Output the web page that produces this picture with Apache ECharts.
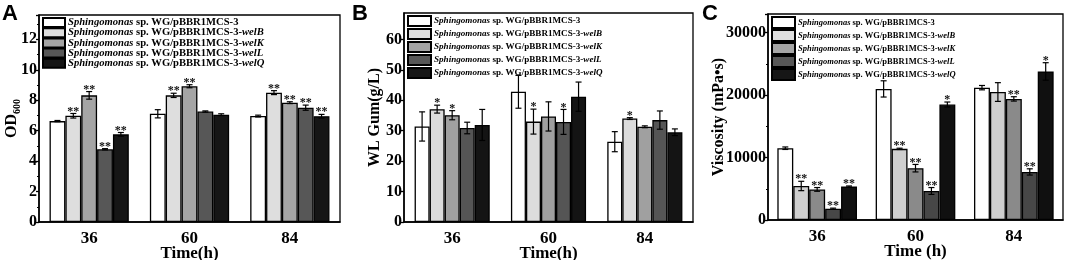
<!DOCTYPE html>
<html>
<head>
<meta charset="utf-8">
<script src="https://cdn.jsdelivr.net/npm/echarts@6/dist/echarts.min.js"></script>
<style>
  html, body { margin: 0; padding: 0; background: #fff; }
  #main { width: 1065px; height: 260px; }
</style>
</head>
<body>
<div id="main"></div>
<script>
// sampling times (h)
const times = ['36', '60', '84']

const strains = [
    'Sphingomonas sp. WG/pBBR1MCS-3',
    'Sphingomonas sp. WG/pBBR1MCS-3-welB',
    'Sphingomonas sp. WG/pBBR1MCS-3-welK',
    'Sphingomonas sp. WG/pBBR1MCS-3-welL',
    'Sphingomonas sp. WG/pBBR1MCS-3-welQ',
]
const geneTags = ['', 'welB', 'welK', 'welL', 'welQ']

// A: OD600, one row per strain, columns = times
const odMean = [
    [6.63, 7.11, 6.96],
    [6.98, 8.32, 8.50],
    [8.32, 8.92, 7.84],
    [4.78, 7.26, 7.51],
    [5.76, 7.05, 6.95],
]
const odErr = [
    [0.04, 0.27, 0.06],
    [0.15, 0.14, 0.13],
    [0.25, 0.10, 0.06],
    [0.04, 0.04, 0.17],
    [0.12, 0.06, 0.12],
]
const odSig = [
    ['', '', ''],
    ['**', '**', '**'],
    ['**', '**', '**'],
    ['**', '', '**'],
    ['**', '', '**'],
]

// B: WL gum (g/L)
const gumMean = [
    [31.4, 42.8, 26.4],
    [37.1, 33.0, 34.0],
    [35.1, 34.7, 31.3],
    [30.9, 32.9, 33.5],
    [31.9, 41.2, 29.5],
]
const gumErr = [
    [4.8, 5.4, 3.3],
    [1.3, 4.1, 0.3],
    [1.5, 4.8, 0.3],
    [1.9, 4.1, 3.0],
    [5.1, 4.8, 1.1],
]
const gumSig = [
    ['', '', ''],
    ['*', '*', '*'],
    ['*', '', ''],
    ['', '*', ''],
    ['', '', ''],
]

// C: viscosity (mPa·s)
const viscMean = [
    [11500, 21000, 21200],
    [5450, 11400, 20500],
    [4900, 8300, 19400],
    [1800, 4650, 7700],
    [5350, 18500, 23800],
]
const viscErr = [
    [200, 1300, 350],
    [750, 100, 1500],
    [300, 600, 350],
    [100, 550, 500],
    [100, 400, 1400],
]
const viscSig = [
    ['', '', ''],
    ['**', '**', ''],
    ['**', '**', '**'],
    ['**', '**', '**'],
    ['**', '*', '*'],
]

const serif = '"Liberation Serif", "Times New Roman", serif'

const panels = [
    {
        letter: 'A', letterX: 2,
        grid: { left: 39, top: 15, width: 301, height: 207 },
        mean: odMean, err: odErr, sig: odSig,
        max: 13.6, interval: 2, minor: true,
        yName: '{n|OD}{s|600}', nameGap: 19, xName: 'Time(h)',
        gap: 0.21,
        colors: ['#ffffff', '#dedede', '#a5a5a5', '#575757', '#161616'],
        legend: { left: 42, top: 17, itemWidth: 22, itemHeight: 9, itemGap: -0.8, fontSize: 10.6, lineHeight: 9 },
    },
    {
        letter: 'B', letterX: 352,
        grid: { left: 404, top: 13, width: 289, height: 209 },
        mean: gumMean, err: gumErr, sig: gumSig,
        max: 68.7, interval: 10, minor: false,
        yName: 'WL Gum(g/L)', nameGap: 21, xName: 'Time(h)',
        gap: 0.22,
        colors: ['#ffffff', '#dcdcdc', '#a0a0a0', '#555555', '#141414'],
        legend: { left: 407, top: 15, itemWidth: 23, itemHeight: 10, itemGap: 1, fontSize: 9.1, lineHeight: 10 },
    },
    {
        letter: 'C', letterX: 702,
        grid: { left: 768, top: 14, width: 295, height: 206 },
        mean: viscMean, err: viscErr, sig: viscSig,
        max: 33000, interval: 10000, minor: true,
        yName: 'Viscosity (mPa\u2022s)', nameGap: 41, xName: 'Time (h)',
        gap: 0.19,
        colors: ['#ffffff', '#cfcfcf', '#8a8a8a', '#474747', '#101010'],
        legend: { left: 771, top: 16, itemWidth: 23, itemHeight: 11, itemGap: 0, fontSize: 8.5, lineHeight: 11 },
    },
]

const legendName = name => {
    const k = strains.indexOf(name)
    const tag = geneTags[k]
    return '{i|Sphingomonas}{b| sp. WG/pBBR1MCS-3' + (tag ? '-' : '') + '}' + (tag ? '{i|' + tag + '}' : '')
}

const option = {
    animation: false,
    backgroundColor: '#fff',
    grid: [],
    xAxis: [],
    yAxis: [],
    legend: [],
    series: [],
    graphic: [],
}

panels.forEach((p, pi) => {
    option.grid.push({
        ...p.grid,
        outerBoundsMode: 'none',
        show: true,
        borderColor: '#000',
        borderWidth: 1.3,
        backgroundColor: 'transparent',
    })
    option.xAxis.push({
        type: 'category',
        gridIndex: pi,
        data: times,
        name: p.xName,
        nameLocation: 'middle',
        nameGap: 23,
        nameMoveOverlap: false,
        nameTextStyle: { fontFamily: serif, fontWeight: 'bold', fontSize: 17, color: '#000', verticalAlign: 'top' },
        axisLine: { lineStyle: { color: '#000', width: 1.5 } },
        axisTick: { alignWithLabel: true, length: 4, lineStyle: { color: '#000', width: 1.3 } },
        axisLabel: { fontFamily: serif, fontWeight: 'bold', fontSize: 17, color: '#000', margin: 8 },
    })
    option.yAxis.push({
        type: 'value',
        gridIndex: pi,
        min: 0,
        max: p.max,
        interval: p.interval,
        name: p.yName,
        nameLocation: 'middle',
        nameGap: p.nameGap,
        nameMoveOverlap: false,
        nameRotate: 90,
        nameTextStyle: {
            fontFamily: serif, fontWeight: 'bold', fontSize: 16, color: '#000',
            rich: {
                n: { fontFamily: serif, fontWeight: 'bold', fontSize: 16, lineHeight: 16, verticalAlign: 'top' },
                s: { fontFamily: serif, fontWeight: 'bold', fontSize: 10, lineHeight: 10, padding: [8, 0, 0, 0], verticalAlign: 'top' },
            },
        },
        splitLine: { show: false },
        axisLine: { show: true, lineStyle: { color: '#000', width: 1.5 } },
        axisTick: { show: true, length: 3, lineStyle: { color: '#000', width: 1.3 } },
        minorTick: { show: p.minor, splitNumber: 2, length: 2, lineStyle: { color: '#000', width: 1 } },
        axisLabel: {
            fontFamily: serif, fontWeight: 'bold', fontSize: 16, color: '#000', margin: 2,
            showMaxLabel: false,
            formatter: v => String(v),
        },
    })
    option.legend.push({
        data: strains,
        orient: 'vertical',
        left: p.legend.left,
        top: p.legend.top,
        padding: 0,
        itemWidth: p.legend.itemWidth,
        itemHeight: p.legend.itemHeight,
        itemGap: p.legend.itemGap,
        icon: 'rect',
        selectedMode: false,
        formatter: legendName,
        textStyle: {
            color: '#000',
            fontFamily: serif,
            fontSize: p.legend.fontSize,
            lineHeight: p.legend.lineHeight,
            padding: [0, 0, 0, -2],
            rich: {
                i: { fontFamily: serif, fontStyle: 'italic', fontWeight: 'bold', fontSize: p.legend.fontSize, lineHeight: p.legend.lineHeight },
                b: { fontFamily: serif, fontWeight: 'bold', fontSize: p.legend.fontSize, lineHeight: p.legend.lineHeight },
            },
        },
    })

    strains.forEach((s, k) => {
        option.series.push({
            name: s,
            type: 'bar',
            xAxisIndex: pi,
            yAxisIndex: pi,
            data: p.mean[k],
            barGap: '0%',
            barCategoryGap: (p.gap * 100) + '%',
            itemStyle: { color: p.colors[k], borderColor: '#000', borderWidth: 1.3 },
            emphasis: { disabled: true },
        })
    })

    // error bars + significance marks
    const errData = []
    p.mean.forEach((row, k) => row.forEach((v, c) => errData.push([c, k, v, p.err[k][c]])))
    option.series.push({
        type: 'custom',
        xAxisIndex: pi,
        yAxisIndex: pi,
        z: 5,
        silent: true,
        encode: { x: 0, y: 2 },
        data: errData,
        renderItem: (params, api) => {
            const c = api.value(0)
            const k = api.value(1)
            const v = api.value(2)
            const e = api.value(3)
            const band = api.size([1, 0])[0]
            const groupW = band * (1 - p.gap)
            const bw = groupW / 5
            const x = api.coord([c, v])[0] - groupW / 2 + bw * (k + 0.5)
            const yTop = api.coord([c, v + e])[1]
            const yBot = api.coord([c, v - e])[1]
            const cap = 3
            const stroke = { stroke: '#000', lineWidth: 1.2 }
            const children = [
                { type: 'line', shape: { x1: x, y1: yTop, x2: x, y2: yBot }, style: stroke },
                { type: 'line', shape: { x1: x - cap, y1: yTop, x2: x + cap, y2: yTop }, style: stroke },
                { type: 'line', shape: { x1: x - cap, y1: yBot, x2: x + cap, y2: yBot }, style: stroke },
            ]
            const mark = p.sig[k][c]
            if (mark) {
                children.push({
                    type: 'text',
                    style: {
                        text: mark, x: x, y: yTop + 4,
                        align: 'center', verticalAlign: 'bottom',
                        font: 'bold 12px ' + serif, fill: '#111',
                    },
                })
            }
            return { type: 'group', children }
        },
    })

    option.graphic.push({
        type: 'text',
        left: p.letterX,
        top: 3,
        style: { text: p.letter, font: 'bold 22px "Liberation Sans", Arial, sans-serif', fill: '#000' },
    })
})

const chart = echarts.init(document.getElementById('main'))
chart.setOption(option)
</script>
</body>
</html>
